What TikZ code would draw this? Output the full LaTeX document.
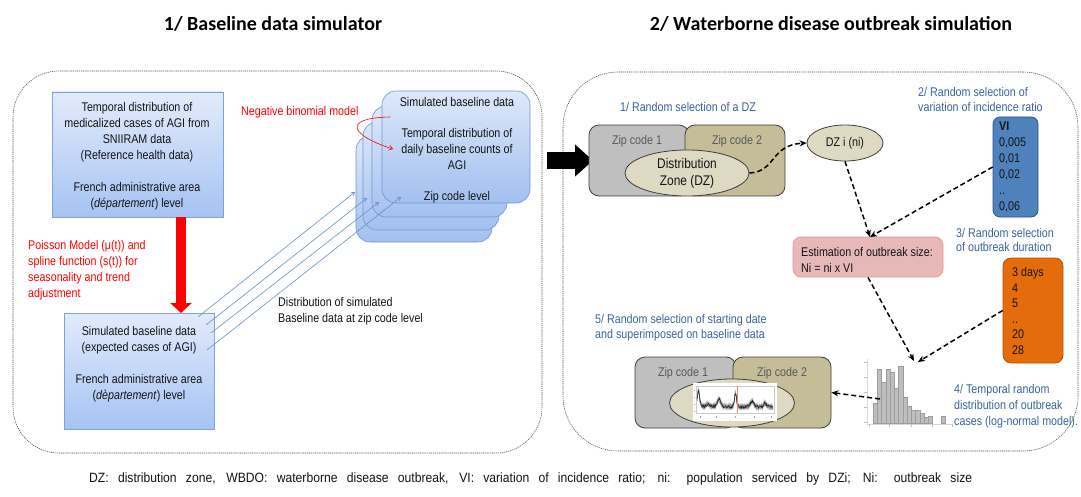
\documentclass[tikz,border=0pt]{standalone}
\usepackage{fontspec}
\setmainfont{Liberation Sans}[FakeStretch=0.85]
\newfontfamily\titlefont{Carlito}
\newfontfamily\footfont{Liberation Sans}[FakeStretch=0.9]
\usetikzlibrary{arrows.meta,shapes.geometric}
\definecolor{txtblack}{HTML}{141414}
\definecolor{labelblue}{HTML}{3A64A0}
\definecolor{boxtop}{HTML}{E2EBFC}
\definecolor{boxbot}{HTML}{A6C3F3}
\definecolor{boxedge}{HTML}{7EA3D6}
\definecolor{stacktop}{HTML}{DEE8FA}
\definecolor{stackbot}{HTML}{A3C0EF}
\definecolor{stackedge}{HTML}{6E97CE}
\definecolor{zipgrayfill}{HTML}{BFBFBF}
\definecolor{zipkhaki}{HTML}{C4BD97}
\definecolor{zipedge}{HTML}{3F3F3F}
\definecolor{dzfill}{HTML}{DDD9C3}
\definecolor{zipgray}{HTML}{595959}
\definecolor{vifill}{HTML}{4F81BD}
\definecolor{viedge}{HTML}{2F528F}
\definecolor{durfill}{HTML}{E46C0A}
\definecolor{duredge}{HTML}{B05309}
\definecolor{estfill}{HTML}{E6B9B8}
\definecolor{estedge}{HTML}{E39C9A}
\definecolor{lineblue}{HTML}{6A8FCB}
\definecolor{histfill}{HTML}{BEBEBE}
\definecolor{histedge}{HTML}{9C9C9C}
\begin{document}
\begin{tikzpicture}[x=1pt,y=-1pt,
  txt/.style={inner sep=0pt, font=\fontsize{12.6}{16}\selectfont, text=txtblack},
  bluelabel/.style={txt, text=labelblue, align=left, anchor=west},
  panel/.style={draw=black!70, line width=0.55pt, dash pattern=on 1.2pt off 0.9pt, inner sep=0pt},
  gradbox/.style={draw=boxedge, line width=0.6pt, top color=boxtop, bottom color=boxbot, inner sep=0pt},
  stackbox/.style={draw=stackedge, line width=0.6pt, top color=stacktop, bottom color=stackbot, rounded corners=14pt, inner sep=0pt},
  zipa/.style={draw=zipedge, line width=0.8pt, fill=zipgrayfill, rounded corners=10pt, inner sep=0pt},
  zipb/.style={draw=zipedge, line width=0.8pt, fill=zipkhaki, rounded corners=10pt, inner sep=0pt},
  dzell/.style={ellipse, draw=zipedge, line width=0.8pt, fill=dzfill, inner sep=0pt},
  dasharrow/.style={draw=black, line width=1.5pt, dash pattern=on 5pt off 3pt, -{Stealth[length=7pt,width=6pt]}},
  thinblue/.style={draw=lineblue, line width=0.6pt, -{Straight Barb[length=3pt,width=4pt]}},
  declare function={gg(\u)=(1/(1+\u*\u))^2;
    ts(\x)=407-17*gg((\x-698.5)/2)-8*gg((\x-719)/3)-15*gg((\x-735.5)/1.6)-6*gg((\x-752)/3)-4*gg((\x-765)/2.5)-3*gg((\x-708)/3);}
]
\useasboundingbox (0,0) rectangle (1081,497);
\fill[white] (0,0) rectangle (1081,497);

% titles
\node[inner sep=0pt, font={\fontsize{20}{24}\titlefont\bfseries}] (t1) at (273,24) {1/ Baseline data simulator};
\node[inner sep=0pt, font={\fontsize{20}{24}\titlefont\bfseries}] (t2) at (831,24) {2/ Waterborne disease outbreak simulation};

% panels
\node[panel, rounded corners=46pt, minimum width=529pt, minimum height=382pt] (lp) at (277.5,262) {};
\node[panel, rounded corners=55pt, minimum width=515pt, minimum height=379pt] (rp) at (820.5,261.5) {};

% ---------- left panel ----------
\node[gradbox, minimum width=171pt, minimum height=125pt] (tb) at (137.5,154.5) {};
\node[txt, align=center] (tbt) at (137,156) {Temporal distribution of\\medicalized cases of AGI from\\SNIIRAM data\\(Reference health data)\\[16pt]French administrative area\\(\textit{département}) level};

\node[gradbox, minimum width=150pt, minimum height=116pt] (bb) at (139,371) {};
\node[txt, align=center] (bbt) at (139,364) {Simulated baseline data\\(expected cases of AGI)\\[16pt]French administrative area\\(\textit{dèpartement}) level};

\coordinate (ra) at (181,217);
\coordinate (rb) at (181,313);
\draw[red, line width=10pt, -{Triangle[length=10pt,width=21pt]}] (ra) -- (rb);

\node[txt, text=red, align=left, anchor=west] (poisson) at (28,270) {Poisson Model (μ(t)) and\\spline function (s(t)) for\\seasonality and trend\\adjustment};

% stacked boxes
\node[stackbox, minimum width=136pt, minimum height=106pt] (s4) at (424,189) {};
\node[stackbox, minimum width=136pt, minimum height=108pt] (s3) at (431,176) {};
\node[stackbox, minimum width=135pt, minimum height=111pt] (s2) at (439.5,161.5) {};
\node[stackbox, minimum width=148pt, minimum height=112pt] (s1) at (456,147) {};
\node[txt] (f1) at (457,102) {Simulated baseline data};
\node[txt, align=center] (f2) at (457,149) {Temporal distribution of\\daily baseline counts of\\AGI};
\node[txt] (f3) at (457,197) {Zip code level};

\node[txt, text=red, anchor=west] (negbin) at (241,112) {Negative binomial model};
\coordinate (rc1) at (390,117);
\coordinate (rc2) at (393,149);
\draw[red, line width=0.6pt, -{Straight Barb[length=3.5pt,width=5pt]}] (rc1) .. controls (340,118) and (352,136) .. (rc2);

% blue lines
\coordinate (bl1a) at (198,317); \coordinate (bl1b) at (355,192);
\coordinate (bl2a) at (206,325); \coordinate (bl2b) at (367,198);
\coordinate (bl3a) at (211,333); \coordinate (bl3b) at (379,202);
\coordinate (bl4a) at (207,350); \coordinate (bl4b) at (401,197);
\draw[thinblue] (bl1a) -- (bl1b);
\draw[thinblue] (bl2a) -- (bl2b);
\draw[thinblue] (bl3a) -- (bl3b);
\draw[thinblue] (bl4a) -- (bl4b);

\node[txt, align=left, anchor=west] (distr) at (278,311) {Distribution of simulated\\Baseline data at zip code level};

% big black arrow
\coordinate (ba) at (547,160.5);
\coordinate (bz) at (593,160.5);
\draw[black, line width=17pt, -{Triangle[length=18pt,width=31pt]}] (ba) -- (bz);

% ---------- right panel ----------
\node[txt, text=labelblue] (l1) at (688,107) {1/ Random selection of a DZ};
\node[zipa, minimum width=100pt, minimum height=71pt] (z1) at (639,160.5) {};
\node[zipb, minimum width=100pt, minimum height=71pt] (z2) at (735,160.5) {};
\node[txt, text=zipgray] (z1t) at (637,141) {Zip code 1};
\node[txt, text=zipgray] (z2t) at (737,141) {Zip code 2};
\node[dzell, minimum width=124pt, minimum height=46pt, align=center, font=\fontsize{14}{17}\selectfont, text=txtblack] (dz) at (687,173) {Distribution\\Zone (DZ)};

\node[dzell, minimum width=76pt, minimum height=36pt, txt, inner sep=0pt] (dzi) at (845,143) {DZ i (ni)};
\draw[dasharrow] (dz.east) .. controls (776,172) and (770,145) .. (dzi.west);

\node[bluelabel, font=\fontsize{12.6}{15}\selectfont] (l2) at (918,99.5) {2/ Random selection of\\variation of incidence ratio};
\node[draw=viedge, line width=0.8pt, fill=vifill, rounded corners=7pt, minimum width=45pt, minimum height=100pt, inner sep=0pt] (vi) at (1015.5,167) {};
\node[txt, align=left, anchor=west] (vit) at (999,167) {\textbf{VI}\\0,005\\0,01\\0,02\\..\\0,06};

\node[draw=estedge, line width=0.8pt, fill=estfill, rounded corners=8pt, minimum width=150pt, minimum height=40pt, inner sep=0pt] (est) at (868,257) {};
\node[txt, align=left, anchor=west] (estt) at (801,260) {Estimation of outbreak size:\\Ni = ni x VI};
\coordinate (estin) at (870,237);
\draw[dasharrow] (dzi.south) -- (estin);
\draw[dasharrow] (vi.west) -- (estin);

\node[bluelabel, font=\fontsize{12.6}{14.5}\selectfont] (l3) at (956,240) {3/ Random selection\\of outbreak duration};
\node[draw=duredge, line width=0.8pt, fill=durfill, rounded corners=8pt, minimum width=60pt, minimum height=105pt, inner sep=0pt] (dur) at (1033,310.5) {};
\node[txt, align=left, anchor=west, font=\fontsize{12.6}{15.6}\selectfont] (durt) at (1012,311) {3 days\\4\\5\\..\\20\\28};

% histogram
\draw[black!15, line width=0.5pt] (867,359) -- (867,424) -- (953,424);
\foreach \yy in {362,377,392,407,422} { \draw[black!25, line width=0.4pt] (864,\yy) -- (867,\yy); }
\foreach \xx in {869,889,911,932,952} { \draw[black!25, line width=0.4pt] (\xx,424) -- (\xx,427); }
\foreach \i/\t in {0/403,1/369,2/382,3/369,4/372,5/388,6/366,7/397,8/406,9/410,10/410,11/413,12/417,13/416,16/416} {
  \filldraw[fill=histfill, draw=histedge, line width=0.3pt] ({873+4.24*\i},423) rectangle ({873+4.24*(\i+1)},\t);
}
\coordinate (histin) at (914,361);
\coordinate (histin2) at (918,362);
\coordinate (histout) at (880,399);
\draw[dasharrow] (est.south) -- (histin);
\draw[dasharrow] (dur.west) -- (histin2);

\node[bluelabel] (l4) at (954,406) {4/ Temporal random\\distribution of outbreak\\cases (log-normal model).};

\node[bluelabel, font=\fontsize{12.6}{15}\selectfont] (l5) at (595,327.5) {5/ Random selection of starting date\\and superimposed on baseline data};
\node[zipa, minimum width=101pt, minimum height=71pt] (zb1) at (685.5,392.5) {};
\node[zipb, minimum width=98pt, minimum height=71pt] (zb2) at (782,392.5) {};
\node[txt, text=zipgray] (zb1t) at (683,373) {Zip code 1};
\node[txt, text=zipgray] (zb2t) at (782,373) {Zip code 2};
\node[dzell, minimum width=125pt, minimum height=48pt] (dzb) at (732,403) {};
\node[fill=white, minimum width=84pt, minimum height=38pt, inner sep=0pt] (tsplot) at (735,402) {};
\draw[black!20, line width=0.4pt] (696,386) rectangle (774,413);
\foreach \xx in {700,716,735,754,771} { \draw[black!35, line width=0.4pt] (\xx,416) -- (\xx,418); }
\foreach \yy in {390,397,404,411} { \draw[black!35, line width=0.4pt] (693.5,\yy) -- (695,\yy); }
\pgfmathsetseed{11}
\foreach \k in {1,...,9} {
  \draw[black!60, opacity=0.3, line width=0.35pt] plot[domain=697:773, samples=150] (\x,{ts(\x)+3.2*rand});
}
\draw[black!90, line width=0.45pt] plot[domain=697:773, samples=150] (\x,{ts(\x)+1.6*rand});
\draw[red!50, line width=0.8pt] (737.5,386) -- (737.5,413);

\draw[dasharrow] (histout) -- (zb2.east);

% footer
\node[anchor=base west, inner sep=0pt, font={\fontsize{13.5}{15}\footfont}, text=txtblack] (foot) at (89,482) {\makebox[883pt][s]{DZ: distribution zone, WBDO: waterborne disease outbreak, VI: variation of incidence ratio; ni: population serviced by DZi; Ni: outbreak size}};
\end{tikzpicture}
\end{document}
